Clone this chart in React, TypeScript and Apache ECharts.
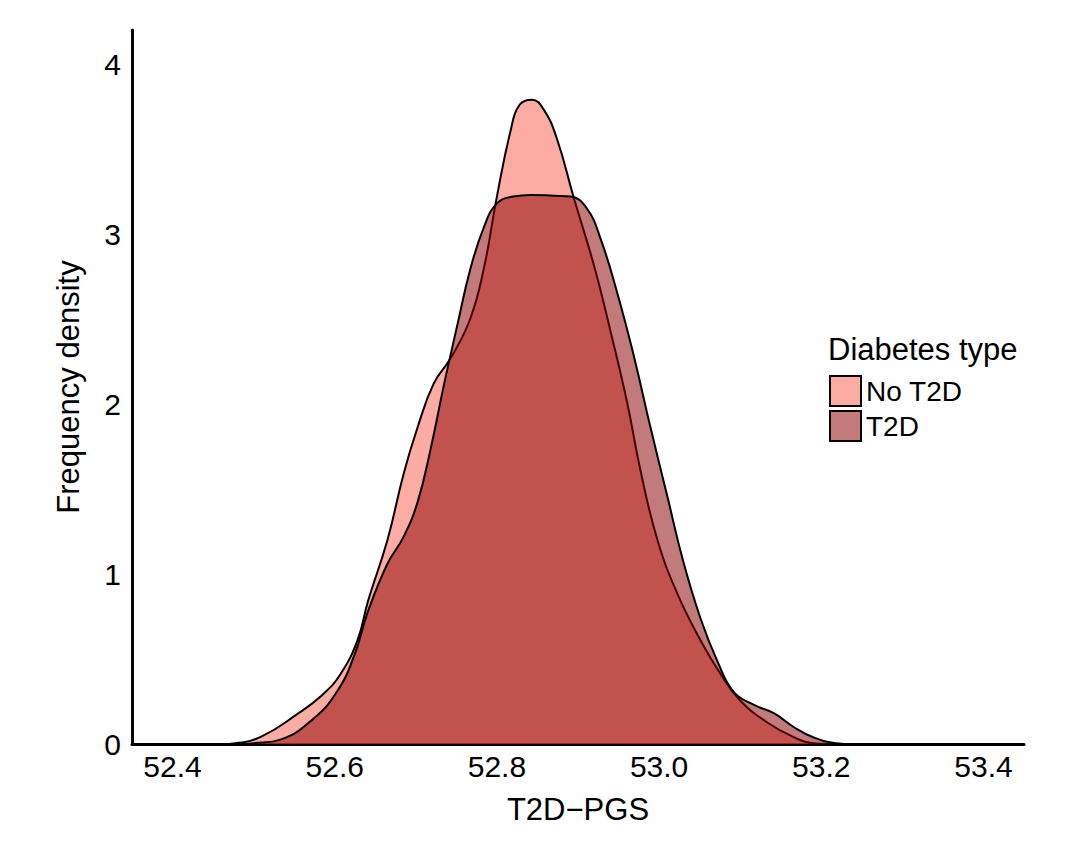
import { useEffect, useRef } from "react";
import * as echarts from "echarts";

// density curves: [T2D-PGS, density]
const noT2D: [number, number][] = [
  [52.35, 0], [52.46, 0], [52.478, 0.005], [52.51, 0.045], [52.555, 0.18],
  [52.585, 0.29], [52.607, 0.41], [52.628, 0.61], [52.641, 0.84], [52.665, 1.2],
  [52.685, 1.59], [52.702, 1.86], [52.722, 2.12], [52.743, 2.27], [52.767, 2.5],
  [52.784, 2.8], [52.8, 3.22], [52.817, 3.61], [52.828, 3.76], [52.843, 3.79],
  [52.858, 3.73], [52.874, 3.56], [52.895, 3.21], [52.92, 2.81], [52.94, 2.43],
  [52.961, 2.0], [52.977, 1.61], [52.998, 1.2], [53.022, 0.89], [53.051, 0.61],
  [53.076, 0.41], [53.1, 0.256], [53.133, 0.128], [53.166, 0.04], [53.19, 0.005],
  [53.22, 0], [53.45, 0],
];

const t2d: [number, number][] = [
  [52.35, 0], [52.48, 0], [52.5, 0.005], [52.533, 0.026], [52.574, 0.15],
  [52.603, 0.31], [52.624, 0.52], [52.641, 0.78], [52.665, 1.06], [52.685, 1.22],
  [52.702, 1.42], [52.718, 1.73], [52.735, 2.12], [52.751, 2.46], [52.767, 2.79],
  [52.784, 3.04], [52.8, 3.18], [52.82, 3.22], [52.842, 3.23], [52.87, 3.225],
  [52.891, 3.22], [52.911, 3.15], [52.928, 2.97], [52.948, 2.66], [52.969, 2.28],
  [52.989, 1.87], [53.01, 1.46], [53.03, 1.07], [53.051, 0.74], [53.072, 0.486],
  [53.092, 0.307], [53.117, 0.23], [53.142, 0.18], [53.166, 0.1], [53.19, 0.04],
  [53.218, 0.005], [53.24, 0], [53.45, 0],
];

const xTicks = [52.4, 52.6, 52.8, 53.0, 53.2, 53.4];
const yTicks = [0, 1, 2, 3, 4];
const groups = ["No T2D", "T2D"];
const fills = ["rgba(250,128,114,0.65)", "rgba(139,0,0,0.52)"];

const FONT = "Liberation Sans";

export default function App() {
  const chartRef = useRef<HTMLDivElement>(null);

  useEffect(() => {
    document.body.style.margin = "0";
    if (!chartRef.current) return;
    const chart = echarts.init(chartRef.current, undefined, { renderer: "svg" });

    const axisText = { color: "#000", fontFamily: FONT, fontSize: 30 };

    chart.setOption({
      animation: false,
      grid: { left: 132, right: 56, top: 30, bottom: 120 },
      xAxis: {
        type: "value",
        min: 52.35,
        max: 53.45,
        name: "T2D\u2212PGS",
        nameLocation: "middle",
        nameGap: 50,
        nameTextStyle: { ...axisText, fontSize: 31 },
        axisLine: { show: true, lineStyle: { color: "#000", width: 3 } },
        axisTick: { show: false },
        splitLine: { show: false },
        axisLabel: {
          ...axisText,
          margin: 7,
          customValues: xTicks,
          formatter: (v: number) => v.toFixed(1),
        },
      },
      yAxis: {
        type: "value",
        min: 0,
        max: 4.2,
        name: "Frequency density",
        nameLocation: "middle",
        nameGap: 48,
        nameTextStyle: { ...axisText, fontSize: 31 },
        axisLine: { show: true, lineStyle: { color: "#000", width: 3 } },
        axisTick: { show: false },
        splitLine: { show: false },
        axisLabel: {
          ...axisText,
          margin: 11,
          customValues: yTicks,
          formatter: (v: number) => String(v),
        },
      },
      legend: {
        orient: "vertical",
        left: 824,
        top: 370,
        itemWidth: 31,
        itemHeight: 30,
        itemGap: 3,
        icon: "rect",
        textStyle: { color: "#000", fontFamily: FONT, fontSize: 28, lineHeight: 30 },
        data: groups.map((g, i) => ({
          name: g,
          itemStyle: { color: fills[i], borderColor: "#000", borderWidth: 2 },
        })),
      },
      graphic: [
        {
          type: "text",
          left: 828,
          top: 334,
          style: {
            text: "Diabetes type",
            fill: "#000",
            font: `31px "${FONT}"`,
          },
        },
      ],
      series: [noT2D, t2d].map((d, i) => ({
        name: groups[i],
        type: "line",
        data: d,
        smooth: 0.45,
        showSymbol: false,
        color: fills[i],
        lineStyle: { color: "#000", width: 2 },
        areaStyle: { color: fills[i], opacity: 1 },
        z: 2 + i,
      })),
    });

    return () => chart.dispose();
  }, []);

  return <div ref={chartRef} style={{ width: 1080, height: 864 }} />;
}
